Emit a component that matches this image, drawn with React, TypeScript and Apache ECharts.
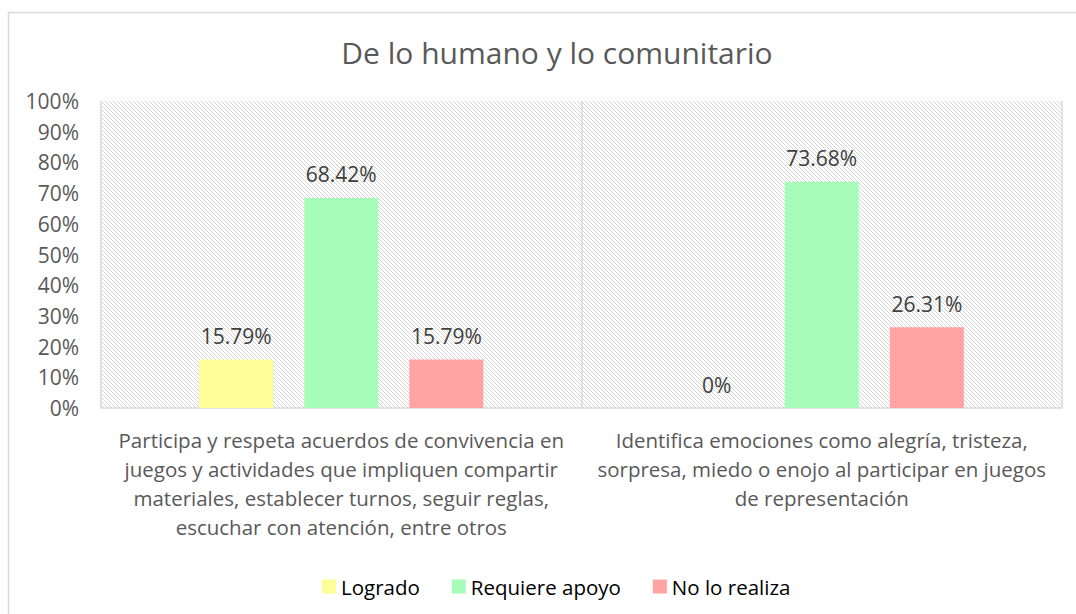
import React, { useEffect, useRef } from "react";
import * as echarts from "echarts";

const categories = [
  "Participa y respeta acuerdos de convivencia en\njuegos y actividades que impliquen compartir\nmateriales, establecer turnos, seguir reglas,\nescuchar con atención, entre otros",
  "Identifica emociones como alegría, tristeza,\nsorpresa, miedo o enojo al participar en juegos\nde representación",
];
const seriesNames = ["Logrado", "Requiere apoyo", "No lo realiza"];
const logrado = [15.79, 0];
const requiereApoyo = [68.42, 73.68];
const noLoRealiza = [15.79, 26.31];
const colors = ["#FFFF99", "#A6FCB8", "#FFA3A3"];

function makeHatch() {
  const c = document.createElement("canvas");
  c.width = 4;
  c.height = 4;
  const ctx = c.getContext("2d")!;
  ctx.fillStyle = "#ffffff";
  ctx.fillRect(0, 0, 4, 4);
  ctx.fillStyle = "#d6d6d6";
  for (let i = 0; i < 4; i++) ctx.fillRect(i, i, 1, 1);
  return c;
}

export default function App() {
  const ref = useRef<HTMLDivElement>(null);
  useEffect(() => {
    const chart = echarts.init(ref.current!, null, { renderer: "svg" });
    const font = "'Open Sans', sans-serif";
    const labelCfg = {
      show: true,
      position: "top",
      distance: 13,
      formatter: (p: any) => `${p.value}%`,
      fontFamily: font,
      fontSize: 21,
      color: "#404040",
    };
    const dataSets = [logrado, requiereApoyo, noLoRealiza];
    chart.setOption({
      animation: false,
      backgroundColor: "#ffffff",
      title: {
        text: "De lo humano y lo comunitario",
        left: 552,
        top: 32,
        textAlign: "center",
        textStyle: { fontFamily: font, fontSize: 30, fontWeight: "normal", color: "#595959" },
      },
      graphic: [
        {
          type: "rect",
          shape: { x: 8.5, y: 12.5, width: 1200, height: 800 },
          style: { fill: "none", stroke: "#d9d9d9", lineWidth: 1.5 },
          silent: true,
        },
      ],
      legend: {
        left: 317,
        top: 571,
        icon: "rect",
        itemWidth: 14,
        itemHeight: 14,
        itemGap: 32,
        textStyle: { fontFamily: font, fontSize: 20.5, color: "#000000" },
        data: seriesNames,
      },
      grid: {
        left: 101,
        right: 14,
        top: 101,
        bottom: 206,
        show: true,
        borderWidth: 0,
        backgroundColor: { image: makeHatch(), repeat: "repeat", imageWidth: 4, imageHeight: 4 },
      },
      xAxis: {
        type: "category",
        data: categories,
        axisLine: { show: true, lineStyle: { color: "#d9d9d9", width: 1.5 } },
        axisTick: { show: false },
        splitLine: { show: true, interval: 0, lineStyle: { color: "#d9d9d9", width: 1.5 } },
        axisLabel: {
          interval: 0,
          margin: 17,
          fontFamily: font,
          fontSize: 20.5,
          lineHeight: 29,
          color: "#595959",
          align: "center",
        },
      },
      yAxis: {
        type: "value",
        min: 0,
        max: 100,
        interval: 10,
        axisLine: { show: false },
        axisTick: { show: false },
        splitLine: { show: false },
        axisLabel: {
          formatter: (v: number) => `${v}%`,
          margin: 22,
          fontFamily: font,
          fontSize: 21,
          color: "#595959",
        },
      },
      series: seriesNames.map((name, i) => ({
        name,
        type: "bar",
        data: dataSets[i],
        barWidth: 74,
        barGap: "42%",
        itemStyle: { color: colors[i] },
        label: labelCfg,
      })),
    });
    return () => chart.dispose();
  }, []);
  return (
    <div
      ref={ref}
      style={{ position: "absolute", left: 0, top: 0, width: 1076, height: 614 }}
    />
  );
}
